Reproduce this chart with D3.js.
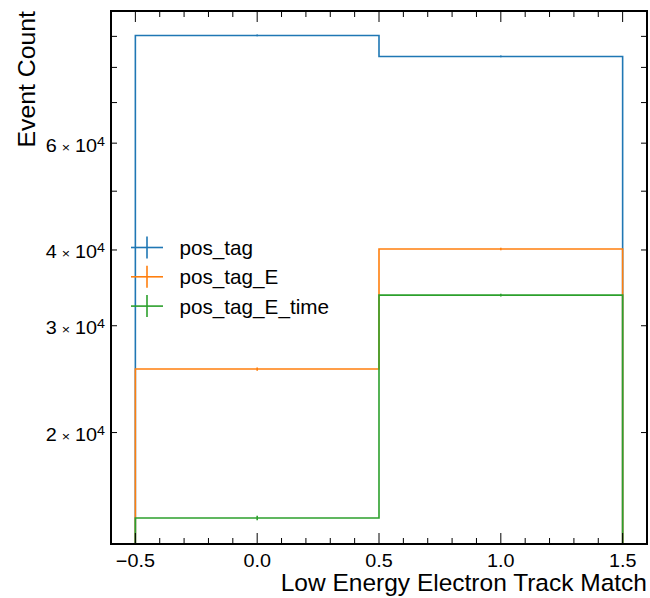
<!DOCTYPE html>
<html>
<head>
<meta charset="utf-8">
<script src="https://cdn.jsdelivr.net/npm/d3@7"></script>
<style>
  body { margin: 0; background: #fff; }
  text { font-family: "Liberation Sans", Arial, sans-serif; fill: #000; }
</style>
</head>
<body>
<svg id="chart"></svg>
<script>
// bins and series
let binEdges = [-0.5, 0.5, 1.5];
let binCenters = [0.0, 1.0];
let seriesNames = ["pos_tag", "pos_tag_E", "pos_tag_E_time"];
let seriesColors = ["#1f77b4", "#ff7f0e", "#2ca02c"];
let posTag = [90300, 83400];
let posTagE = [25450, 40150];
let posTagETime = [14460, 33700];
let xTicks = [-0.5, 0.0, 0.5, 1.0, 1.5];
let yTicks = [2e4, 3e4, 4e4, 6e4];
let yMinorTicks = [5e4, 7e4, 8e4, 9e4];

let series = [posTag, posTagE, posTagETime];

let width = 650, height = 598;
let margin = {top: 11, right: 3, bottom: 54, left: 111};
let w = width - margin.left - margin.right,
    h = height - margin.top - margin.bottom;

let x = d3.scaleLinear().domain([-0.6, 1.6]).range([0, w]);
let y = d3.scaleLog().domain([13100, 99100]).range([h, 0]);

let svg = d3.select("#chart")
    .attr("width", width)
    .attr("height", height);
let g = svg.append("g")
    .attr("transform", "translate(" + margin.left + "," + margin.top + ")");

// clip for the histogram lines
g.append("clipPath").attr("id", "clip")
    .append("rect").attr("width", w).attr("height", h);

let plot = g.append("g").attr("clip-path", "url(#clip)");

series.forEach(function(vals, i) {
    let pts = [[x(binEdges[0]), h + 5]];
    vals.forEach(function(v, j) {
        pts.push([x(binEdges[j]), y(v)]);
        pts.push([x(binEdges[j + 1]), y(v)]);
    });
    pts.push([x(binEdges[binEdges.length - 1]), h + 5]);
    plot.append("path")
        .attr("d", d3.line()(pts))
        .attr("fill", "none")
        .attr("stroke", seriesColors[i])
        .attr("stroke-width", 1.6);
    // error bars at bin centres
    vals.forEach(function(v, j) {
        let e = Math.sqrt(v);
        plot.append("line")
            .attr("x1", x(binCenters[j])).attr("x2", x(binCenters[j]))
            .attr("y1", y(v - e)).attr("y2", y(v + e))
            .attr("stroke", seriesColors[i])
            .attr("stroke-width", 1.6);
    });
});

// x ticks, bottom and top
let xMinor = d3.range(-0.6, 1.61, 0.1).map(d => Math.round(d * 10) / 10)
    .filter(d => xTicks.indexOf(d) < 0);
xMinor.forEach(function(d) {
    [[h, -1], [0, 1]].forEach(function(s) {
        g.append("line")
            .attr("x1", x(d)).attr("x2", x(d))
            .attr("y1", s[0]).attr("y2", s[0] + s[1] * 6)
            .attr("stroke", "#000").attr("stroke-width", 1);
    });
});
xTicks.forEach(function(d) {
    [[h, -1], [0, 1]].forEach(function(s) {
        g.append("line")
            .attr("x1", x(d)).attr("x2", x(d))
            .attr("y1", s[0]).attr("y2", s[0] + s[1] * 11)
            .attr("stroke", "#000").attr("stroke-width", 1);
    });
    g.append("text")
        .attr("transform", "translate(" + x(d) + "," + (h + 23) + ") scale(1.1,1)")
        .attr("text-anchor", "middle")
        .style("font-size", "18px")
        .text(d3.format(".1f")(d));
});

// y ticks, left and right (all short log minor ticks)
yTicks.concat(yMinorTicks).forEach(function(d) {
    [[0, 1], [w, -1]].forEach(function(s) {
        g.append("line")
            .attr("x1", s[0]).attr("x2", s[0] + s[1] * 6)
            .attr("y1", y(d)).attr("y2", y(d))
            .attr("stroke", "#000").attr("stroke-width", 1);
    });
});
yTicks.forEach(function(d) {
    let t = g.append("text")
        .attr("transform", "translate(-6," + (y(d) + 8.4) + ") scale(1.1,1)")
        .attr("text-anchor", "end")
        .style("font-size", "18px");
    t.append("tspan").text(d / 1e4);
    t.append("tspan").attr("dx", 4.5).style("font-size", "13px").text("\u00d7");
    t.append("tspan").attr("dx", 4.5).text("10");
    t.append("tspan").attr("dy", -6).style("font-size", "13px").text("4");
});

// frame
g.append("rect")
    .attr("width", w).attr("height", h)
    .attr("fill", "none")
    .attr("stroke", "#000")
    .attr("stroke-width", 2);

// axis labels
svg.append("text")
    .attr("x", margin.left + w)
    .attr("y", 591)
    .attr("text-anchor", "end")
    .style("font-size", "24.5px")
    .text("Low Energy Electron Track Match");
svg.append("text")
    .attr("transform", "translate(35," + margin.top + ") rotate(-90)")
    .attr("text-anchor", "end")
    .style("font-size", "24.8px")
    .text("Event Count");

// legend
let legend = svg.append("g").attr("transform", "translate(131,247.5)");
seriesNames.forEach(function(name, i) {
    let row = legend.append("g").attr("transform", "translate(0," + (i * 29.3) + ")");
    row.append("line")
        .attr("x1", 0).attr("x2", 32).attr("y1", 0).attr("y2", 0)
        .attr("stroke", seriesColors[i]).attr("stroke-width", 1.6);
    row.append("line")
        .attr("x1", 16).attr("x2", 16).attr("y1", -11).attr("y2", 11)
        .attr("stroke", seriesColors[i]).attr("stroke-width", 1.6);
    row.append("text")
        .attr("x", 48.5)
        .attr("y", 0)
        .attr("dy", "0.36em")
        .style("font-size", "20.7px")
        .text(name);
});
</script>
</body>
</html>
